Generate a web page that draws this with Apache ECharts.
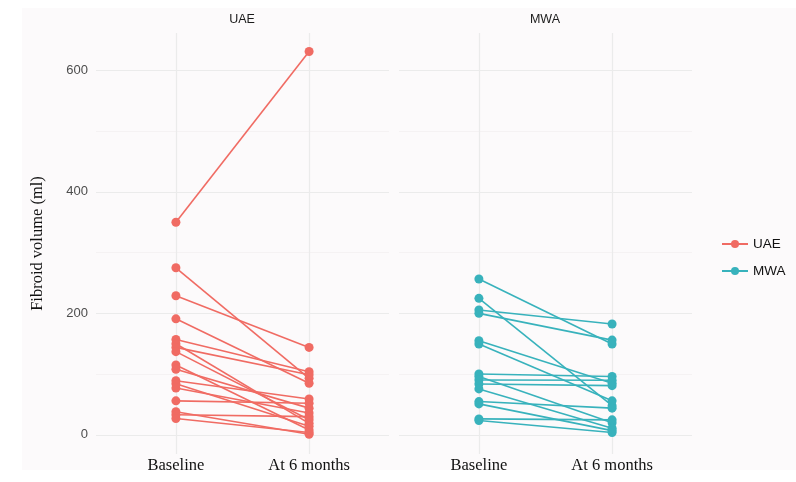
<!DOCTYPE html>
<html>
<head>
<meta charset="utf-8">
<script src="https://cdn.jsdelivr.net/npm/echarts@6/dist/echarts.min.js"></script>
<style>
html,body{margin:0;padding:0;background:#ffffff;}
#chart{width:796px;height:482px;}
</style>
</head>
<body>
<div id="chart"></div>
<script>
// ---- data ----
const timepoints = ['Baseline', 'At 6 months'];
const groups = ['UAE', 'MWA'];
const uaeBaseline = [350, 275, 229, 191, 157, 150, 144, 137, 115, 108, 89, 84, 77, 56, 38, 33, 27];
const uaeSixMonths = [631, 93, 144, 85, 104, 19, 99, 25, 8, 44, 59, 14, 36, 52, 1, 30, 4];
const mwaBaseline = [256.5, 224.7, 205.5, 200, 155, 149.6, 100.3, 95.9, 90.4, 83.8, 75.6, 54.8, 51, 26.3, 23.6];
const mwaSixMonths = [149.6, 48, 182.5, 156, 85, 56, 96, 20, 90, 81, 11, 44, 7, 24.7, 3.8];
const yMajorTicks = [0, 200, 400, 600];
const yMinorTicks = [100, 300, 500];

const colors = {UAE: '#F06B63', MWA: '#38B2BC'};
const gridColor = '#ebebeb';

function pairData(b, s) {
  const out = [];
  for (let i = 0; i < b.length; i++) {
    out.push([[1, b[i]], [2, s[i]]]);
  }
  return out;
}

const series = [];
function addGroup(name, idx, b, s) {
  pairData(b, s).forEach(function (pts) {
    series.push({
      name: name,
      type: 'line',
      xAxisIndex: idx,
      yAxisIndex: idx,
      data: pts,
      symbol: 'circle',
      symbolSize: 9,
      lineStyle: {color: colors[name], width: 1.6},
      itemStyle: {color: colors[name]},
      emphasis: {disabled: true},
      z: 5
    });
  });
}

// grid lines as markLines
function gridSeries(idx) {
  const md = [];
  yMajorTicks.forEach(v => md.push({yAxis: v, lineStyle: {color: gridColor, width: 1.2, type: 'solid'}}));
  yMinorTicks.forEach(v => md.push({yAxis: v, lineStyle: {color: '#f2f0f1', width: 0.8, type: 'solid'}}));
  [1, 2].forEach(v => md.push({xAxis: v, lineStyle: {color: gridColor, width: 1.2, type: 'solid'}}));
  return {
    type: 'line',
    xAxisIndex: idx,
    yAxisIndex: idx,
    data: [],
    silent: true,
    z: 1,
    markLine: {silent: true, symbol: ['none', 'none'], label: {show: false}, animation: false, data: md}
  };
}

series.push(gridSeries(0));
series.push(gridSeries(1));
addGroup('UAE', 0, uaeBaseline, uaeSixMonths);
addGroup('MWA', 1, mwaBaseline, mwaSixMonths);

function xAxis(idx) {
  return {
    type: 'value', gridIndex: idx, min: 0.4, max: 2.6,
    axisLine: {show: false}, axisTick: {show: false}, splitLine: {show: false},
    axisLabel: {
      customValues: [1, 2],
      formatter: function (v) { return timepoints[Math.round(v) - 1]; },
      fontFamily: 'Liberation Serif', fontSize: 16.5, color: '#111', margin: 3
    }
  };
}
function yAxis(idx) {
  const a = {
    type: 'value', gridIndex: idx, min: -31.5, max: 661.5,
    axisLine: {show: false}, axisTick: {show: false}, splitLine: {show: false},
    axisLabel: {show: idx === 0, customValues: yMajorTicks, color: '#4d4d4d', fontSize: 13, fontFamily: 'Liberation Sans', margin: 8}
  };
  if (idx === 0) {
    a.name = 'Fibroid volume (ml)';
    a.nameLocation = 'middle';
    a.nameGap = 50;
    a.nameTextStyle = {fontFamily: 'Liberation Serif', fontSize: 16.5, color: '#111'};
  }
  return a;
}

const chart = echarts.init(document.getElementById('chart'), null, {renderer: 'canvas'});
chart.setOption({
  animation: false,
  backgroundColor: '#ffffff',
  graphic: [
    {type: 'rect', shape: {x: 22, y: 8, width: 774, height: 462}, style: {fill: '#fcfafb'}, z: -10, silent: true},
    {type: 'text', x: 242, y: 20, style: {text: 'UAE', fill: '#1a1a1a', font: '12.5px "Liberation Sans"', textAlign: 'center', textVerticalAlign: 'middle'}},
    {type: 'text', x: 545, y: 20, style: {text: 'MWA', fill: '#1a1a1a', font: '12.5px "Liberation Sans"', textAlign: 'center', textVerticalAlign: 'middle'}}
  ],
  legend: {
    data: groups,
    orient: 'vertical',
    left: 716,
    top: 232,
    itemWidth: 26,
    itemHeight: 10,
    itemGap: 13,
    textStyle: {fontFamily: 'Liberation Sans', fontSize: 13.5, color: '#111'},
    selectedMode: false
  },
  grid: [
    {left: 96, top: 33, width: 293, height: 421},
    {left: 399, top: 33, width: 293, height: 421}
  ],
  xAxis: [xAxis(0), xAxis(1)],
  yAxis: [yAxis(0), yAxis(1)],
  series: series
});
</script>
</body>
</html>
